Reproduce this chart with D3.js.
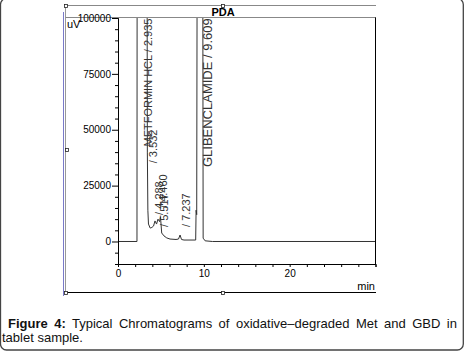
<!DOCTYPE html>
<html>
<head>
<meta charset="utf-8">
<script src="https://cdn.jsdelivr.net/npm/d3@7"></script>
<style>
  body { margin: 0; background: #fff; }
  #wrap { position: relative; width: 465px; height: 352px; overflow: hidden; }
  svg { position: absolute; left: 0; top: 0; }
  #caption {
    position: absolute; left: 2px; top: 317px; width: 455px;
    font-family: "Liberation Sans", Arial, sans-serif; font-size: 13px; line-height: 14px;
    text-align: justify; text-indent: 6px; color: #111;
  }
</style>
</head>
<body>
<div id="wrap">
  <svg id="chart" width="465" height="352"></svg>
  <div id="caption"><b>Figure 4:</b> Typical Chromatograms of oxidative–degraded Met and GBD in tablet sample.</div>
</div>
<script>
// chromatogram trace (time in min, signal in uV)
var traceTime = [0, 2.21, 2.24, 3.36, 3.42, 3.48, 3.55, 3.75, 3.95, 4.14, 4.31, 4.49, 4.66, 4.84, 4.95, 5.09,
                 5.36, 5.68, 6.06, 6.76, 7.05, 7.23, 7.4, 7.69, 9.05, 9.1, 9.17, 9.25, 9.85, 9.92, 10.15, 11, 30];
var traceValue = [0, 0, 200000, 200000, 40000, 14000, 7800, 6000, 6300, 6900, 9200, 7800, 10000, 8900, 11000, 3800,
                  2500, 1600, 1100, 900, 1100, 2900, 900, 650, 650, 14000, 12000, 200000, 200000, 1500, 300, 0, 0];

// peak labels and where their foot sits (time, uV)
var peakLabels = ["METFORMIN HCL / 2.935", "/ 3.532", "/ 4.288", "/ 4.460", "/ 5.517", "/ 7.237", "GLIBENCLAMIDE / 9.609"];
var labelTime = [4.0, 4.6, 5.2, 5.7, 5.8, 8.35, 10.95];
var labelValue = [42500, 35000, 11900, 15000, 6500, 6500, 33300];

var yMajor = [0, 25000, 50000, 75000, 100000];
var xMajor = [0, 10, 20];

var svg = d3.select("#chart");
var font = "'Liberation Sans', Arial, sans-serif";

// outer rounded box of the figure
svg.append("rect")
  .attr("x", 0.5).attr("y", -1.5).attr("width", 462.8).attr("height", 351.5)
  .attr("rx", 6).attr("fill", "none").attr("stroke", "#444").attr("stroke-width", 1.3);

// frame of the pasted chromatogram
svg.append("line").attr("x1", 63.5).attr("x2", 63.5).attr("y1", 12).attr("y2", 296)
  .attr("stroke", "#7a7ac8").attr("stroke-width", 1);
svg.append("line").attr("x1", 65.5).attr("x2", 65.5).attr("y1", 5).attr("y2", 294)
  .attr("stroke", "#999");
svg.append("line").attr("x1", 65.5).attr("x2", 376).attr("y1", 5.5).attr("y2", 5.5)
  .attr("stroke", "#888");
svg.append("line").attr("x1", 65.5).attr("x2", 376).attr("y1", 17.5).attr("y2", 17.5)
  .attr("stroke", "#888");
svg.append("line").attr("x1", 65.5).attr("x2", 376).attr("y1", 292.5).attr("y2", 292.5)
  .attr("stroke", "#000");

// selection handles
[[66, 6], [223, 6], [67, 150], [66, 293], [223, 293]].forEach(function(h) {
  svg.append("rect").attr("x", h[0] - 1.5).attr("y", h[1] - 1.5).attr("width", 3).attr("height", 3)
    .attr("fill", "#fff").attr("stroke", "#222").attr("stroke-width", 0.8);
});

svg.append("text").attr("x", 223).attr("y", 15.5).attr("text-anchor", "middle")
  .style("font-family", font).style("font-size", "11px").style("font-weight", "bold")
  .text("PDA");

// scales
var x = d3.scaleLinear().domain([0, 30]).range([118, 375.5]);
var y = d3.scaleLinear().domain([-10070, 100000]).range([264, 18]);

svg.append("clipPath").attr("id", "plotclip")
  .append("rect").attr("x", 118).attr("y", 18).attr("width", 258).attr("height", 246);

// trace
var pts = traceTime.map(function(t, i) { return [t, traceValue[i]]; });
svg.append("path")
  .datum(pts)
  .attr("clip-path", "url(#plotclip)")
  .attr("fill", "none")
  .attr("stroke", "#333")
  .attr("stroke-width", 1)
  .attr("d", d3.line().x(function(d) { return x(d[0]); }).y(function(d) { return y(d[1]); }));

// peak labels (the glibenclamide one is printed a bit larger)
svg.append("g")
  .selectAll("text")
  .data(peakLabels)
  .enter()
  .append("text")
    .attr("transform", function(d, i) { return "translate(" + x(labelTime[i]) + "," + y(labelValue[i]) + ") rotate(-90)"; })
    .style("font-family", font)
    .style("font-size", function(d, i) { return i === peakLabels.length - 1 ? "13px" : "11px"; })
    .attr("fill", "#333")
    .text(function(d) { return d; });

// y axis: minor then major ticks
var yMinor = d3.range(-5000, 100000, 5000).filter(function(v) { return yMajor.indexOf(v) < 0; });
svg.append("g").attr("transform", "translate(118,0)")
  .call(d3.axisLeft(y).tickValues(yMinor).tickSize(3).tickFormat(""));
svg.append("g").attr("transform", "translate(118,0)")
  .call(d3.axisLeft(y).tickValues(yMajor).tickSize(6).tickSizeOuter(0).tickPadding(1).tickFormat(d3.format("d")));

// x axis
var xMinor = d3.range(2, 31, 2).filter(function(v) { return xMajor.indexOf(v) < 0; });
svg.append("g").attr("transform", "translate(0,264)")
  .call(d3.axisBottom(x).tickValues(xMinor).tickSize(3).tickFormat(""));
svg.append("g").attr("transform", "translate(0,264)")
  .call(d3.axisBottom(x).tickValues(xMajor).tickSize(3).tickSizeOuter(0).tickPadding(3));

svg.selectAll(".domain").attr("stroke", "#000");
svg.selectAll(".tick line").attr("stroke", "#000");
svg.selectAll(".tick text").style("font-family", font).style("font-size", "10px").attr("fill", "#000");

// right border of plot
svg.append("line").attr("x1", 375.5).attr("x2", 375.5).attr("y1", 17.5).attr("y2", 264)
  .attr("stroke", "#000");

// units
svg.append("text").attr("x", 67).attr("y", 28)
  .style("font-family", font).style("font-size", "11px").text("uV");
svg.append("text").attr("x", 375).attr("y", 290).attr("text-anchor", "end")
  .style("font-family", font).style("font-size", "11px").text("min");
</script>
</body>
</html>
